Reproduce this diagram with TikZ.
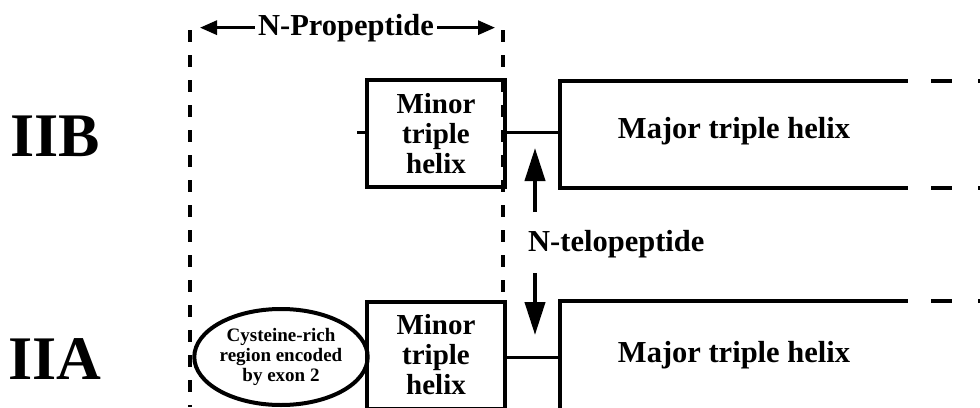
\documentclass[tikz,border=0pt]{standalone}
\usepackage{fontspec}
\setmainfont{Liberation Serif}
\usetikzlibrary{arrows.meta,positioning,shapes.geometric}
\tikzset{
    >=Latex,
    every picture/.style={font=\bfseries},
    gene/.style={font=\bfseries\fontsize{62}{62}\selectfont, anchor=base, inner sep=0pt},
    minorbox/.style={draw, line width=4pt, minimum width=138pt, minimum height=107pt, align=center, inner sep=0pt, font=\bfseries\fontsize{29}{30}\selectfont},
    cysbox/.style={draw, ellipse, line width=4pt, minimum width=172pt, minimum height=96pt, align=center, inner sep=0pt, font=\bfseries\fontsize{19}{20}\selectfont},
    biglabel/.style={font=\bfseries\fontsize{30.5}{32}\selectfont, anchor=base},
    helixline/.style={line width=4pt, line cap=rect},
    helixdash/.style={line width=4pt, dash pattern=on 21pt off 26pt, dash phase=22pt},
    border/.style={line width=3.5pt, dash pattern=on 12pt off 13pt},
    link/.style={line width=3pt},
    spanarrow/.style={-{Triangle[length=17pt,width=14pt]}, line width=3pt},
    teloarrow/.style={-{Triangle[length=33pt,width=20pt]}, line width=4pt}
}
\begin{document}
\begin{tikzpicture}[x=1pt,y=-1pt]
\useasboundingbox (0,0) rectangle (980,407);
\draw[border] (190,30) -- (190,407);
\draw[border] (503,30) -- (503,300);
\node[biglabel] (prop) at (346,35) {N-Propeptide};
\coordinate (propL) at (200,30);
\coordinate (propR) at (495,30);
\draw[spanarrow] (prop.west) -- (prop.west -| propL);
\draw[spanarrow] (prop.east) -- (prop.east -| propR);
\node[gene] (iib) at (55,156) {IIB};
\node[gene] (iia) at (55,379) {IIA};
\node[minorbox] (minorB) at (436,133.5) {Minor\\triple\\helix};
\node[minorbox] (minorA) at (436,355) {Minor\\triple\\helix};
\node[cysbox] (cysA) at (281,357) {Cysteine-rich\\region encoded\\by exon 2};
\draw[helixline] (906,81) -- (560,81) -- (560,188) -- (906,188);
\draw[helixdash] (906,81) -- (985,81);
\draw[helixdash] (906,188) -- (985,188);
\draw[helixline] (906,301) -- (560,301) -- (560,412);
\draw[helixdash] (906,301) -- (985,301);
\coordinate (majorB) at (560,132);
\coordinate (majorA) at (560,357);
\node[biglabel] (majB) at (734,138) {Major triple helix};
\node[biglabel] (majA) at (734,362) {Major triple helix};
\coordinate (stubB) at (357,132);
\coordinate (stubA) at (190,357);
\draw[link] (stubB) -- (minorB.west |- stubB);
\draw[link] (minorB.east |- majorB) -- (majorB);
\draw[link] (stubA) -- (cysA.west);
\draw[link] (minorA.east |- majorA) -- (majorA);
\node[biglabel, anchor=base west, inner sep=0pt] (telo) at (528,251) {N-telopeptide};
\coordinate (upT) at (535,212);
\coordinate (upH) at (535,148);
\coordinate (dnT) at (535,273);
\coordinate (dnH) at (535,335);
\draw[teloarrow] (upT) -- (upH);
\draw[teloarrow] (dnT) -- (dnH);
\end{tikzpicture}
\end{document}
